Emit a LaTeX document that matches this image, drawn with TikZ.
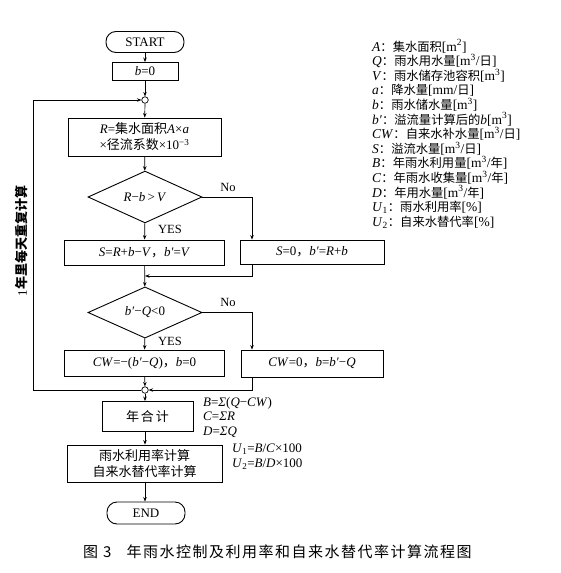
\documentclass[tikz,border=0pt]{standalone}
\usepackage{fontspec}
\setmainfont{Liberation Serif}
\newfontfamily\cjk{Noto Sans CJK SC}
\newfontfamily\cjkcap[LetterSpace=10]{Noto Sans CJK SC}
\usetikzlibrary{shapes.geometric,arrows.meta}
\newcommand{\zh}[1]{{\cjk #1}}
\newcommand{\zl}[1]{{\cjk\fontsize{12.3}{14.6}\selectfont #1}}
\newcommand{\iv}[1]{\textit{#1}}
\tikzset{
  box/.style={draw, line width=0.9pt, inner sep=1pt, align=center, font=\fontsize{13}{16}\selectfont},
  term/.style={box, rounded corners=10pt},
  dec/.style={draw, diamond, line width=0.9pt, inner sep=0pt, font=\fontsize{13}{16}\selectfont},
  jn/.style={draw, circle, minimum size=6.5pt, inner sep=0pt, line width=0.7pt, fill=white},
  arr/.style={-{Stealth[length=4.5pt,width=3.5pt]}, line width=0.7pt},
  ln/.style={line width=0.7pt},
  lab/.style={font=\fontsize{12.5}{14}\selectfont, inner sep=0pt},
  eq/.style={font=\fontsize{13}{14.5}\selectfont, align=left, inner sep=0pt, anchor=north west},
}
\begin{document}
\begin{tikzpicture}[x=1pt,y=-1pt]
\useasboundingbox[fill=white] (0,0) rectangle (561,573);
% main column
\node[term, minimum width=78pt, minimum height=21pt] (start) at (145,42) {START};
\node[box, minimum width=66pt, minimum height=18pt] (b0) at (145,71.5) {\iv{b}=0};
\node[jn] (j1) at (145,100) {};
\node[box, minimum width=153pt, minimum height=38pt] (rbox) at (144.5,137)
  {\iv{R}=\zh{集水面积}\iv{A}×\iv{a}\\×\zh{径流系数}×10\textsuperscript{−3}};
\node[dec, minimum width=114pt, minimum height=47pt] (d1) at (145,197) {\iv{R}−\iv{b}\,>\,\iv{V}};
\node[box, minimum width=160pt, minimum height=25pt] (s1) at (144.5,252.5)
  {\iv{S}=\iv{R}+\iv{b}−\iv{V}\zh{，}\iv{b′}=\iv{V}};
\node[box, minimum width=144pt, minimum height=24pt] (s2) at (312,252)
  {\iv{S}=0\zh{，}\iv{b′}=\iv{R}+\iv{b}};
\node[dec, minimum width=114pt, minimum height=45pt] (d2) at (145,312.5) {\iv{b′}−\iv{Q}<0};
\node[box, minimum width=160pt, minimum height=26pt] (c1) at (144.5,363)
  {\iv{CW}=−(\iv{b′}−\iv{Q})\zh{，}\iv{b}=0};
\node[box, minimum width=142pt, minimum height=27pt] (c2) at (312,363.5)
  {\iv{CW}=0\zh{，}\iv{b}=\iv{b′}−\iv{Q}};
\node[jn] (j2) at (145,390) {};
\node[box, minimum width=91pt, minimum height=30pt] (sum) at (147.5,416.5) {\zh{年\hspace{2pt}合\hspace{2pt}计}};
\node[box, minimum width=155pt, minimum height=37pt] (rate) at (144.5,463.5)
  {\zh{雨水利用率计算}\\[-0.5pt]\zh{自来水替代率计算}};
\node[term, minimum width=78pt, minimum height=22pt] (end) at (146,513) {END};
% helper coordinates
\coordinate (rx) at (252,0);
\coordinate (lx) at (33,0);
\coordinate (m1) at (145,276);
% connectors
\draw[arr] (start) -- (b0);
\draw[arr] (b0) -- (j1);
\draw[arr] (j1) -- (rbox);
\draw[arr] (rbox) -- (d1);
\draw[arr] (d1) -- (s1);
\draw[arr] (d1.east) -| (rx |- s2.north);
\draw[arr] (s1) -- (d2);
\draw[arr] (rx |- s2.south) |- (m1);
\draw[arr] (d2) -- (c1);
\draw[arr] (d2.east) -| (rx |- c2.north);
\draw[arr] (c1) -- (j2);
\draw[arr] (rx |- c2.south) |- (j2.east);
\draw[arr] (j2.west) -- (lx |- j2) -- (lx |- j1) -- (j1.west);
\draw[arr] (j2.south) -- (j2.south |- sum.north);
\draw[arr] (j2.south |- sum.south) -- (j2.south |- rate.north);
\draw[arr] (j2.south |- rate.south) -- (j2.south |- end.north);
% branch labels
\node[lab] (no1) at (228,187) {No};
\node[lab] (yes1) at (170,229) {YES};
\node[lab] (no2) at (228,302) {No};
\node[lab] (yes2) at (170,341) {YES};
% loop label
\node[rotate=90, inner sep=0pt, font=\fontsize{13}{14}\selectfont] (loop) at (22,241) {1\zh{\bfseries 年里每天重复计算}};
% equations
\node[eq] (eqs) at (203,397)
  {\iv{B}=\iv{Σ}(\iv{Q}−\iv{CW})\\\iv{C}=\iv{ΣR}\\\iv{D}=\iv{ΣQ}};
\node[eq] (equ) at (232,444)
  {\iv{U}\textsubscript{1}=\iv{B}/\iv{C}×100\\\iv{U}\textsubscript{2}=\iv{B}/\iv{D}×100};
% legend
\node[anchor=north west, align=left, inner sep=0pt, font=\fontsize{13.5}{14.6}\selectfont] (legend) at (372,39.5)
  {\iv{A}\zl{：集水面积}[m\textsuperscript{2}]\\
   \iv{Q}\zl{：雨水用水量}[m\textsuperscript{3}/\zl{日}]\\
   \iv{V}\zl{：雨水储存池容积}[m\textsuperscript{3}]\\
   \iv{a}\zl{：降水量}[mm/\zl{日}]\\
   \iv{b}\zl{：雨水储水量}[m\textsuperscript{3}]\\
   \iv{b′}\zl{：溢流量计算后的}\iv{b}[m\textsuperscript{3}]\\
   \iv{CW}\zl{：自来水补水量}[m\textsuperscript{3}/\zl{日}]\\
   \iv{S}\zl{：溢流水量}[m\textsuperscript{3}/\zl{日}]\\
   \iv{B}\zl{：年雨水利用量}[m\textsuperscript{3}/\zl{年}]\\
   \iv{C}\zl{：年雨水收集量}[m\textsuperscript{3}/\zl{年}]\\
   \iv{D}\zl{：年用水量}[m\textsuperscript{3}/\zl{年}]\\
   \iv{U}\textsubscript{1}\zl{：雨水利用率}[\%]\\
   \iv{U}\textsubscript{2}\zl{：自来水替代率}[\%]};
% caption
\node[anchor=west, inner sep=0pt, font=\fontsize{15}{18}\selectfont] (cap) at (83,552)
  {\cjkcap 图\hspace{5pt}3\hspace{15pt}年雨水控制及利用率和自来水替代率计算流程图};
\end{tikzpicture}
\end{document}
